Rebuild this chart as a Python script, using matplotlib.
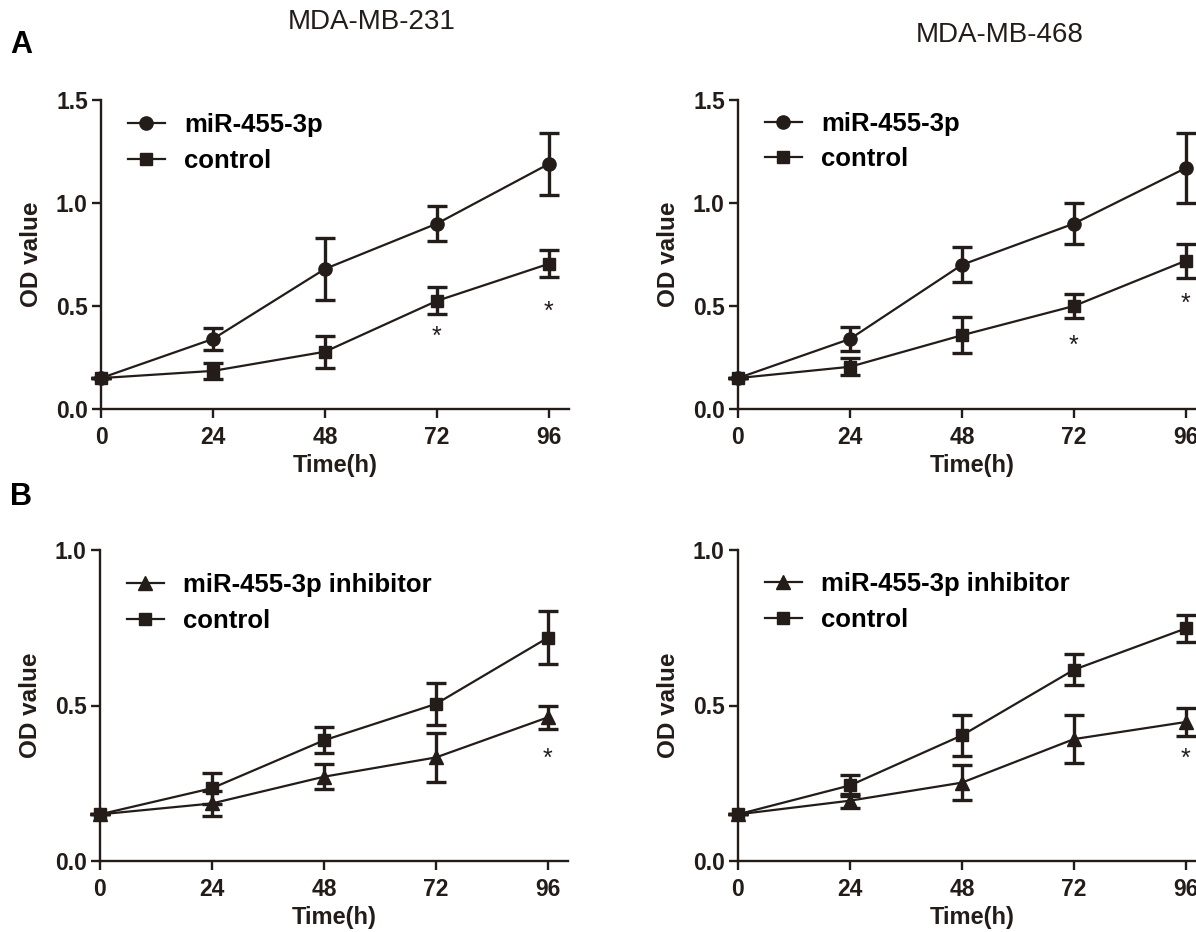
import matplotlib
matplotlib.use('Agg')
import matplotlib.pyplot as plt

plt.rcParams['font.family'] = ['Liberation Sans', 'DejaVu Sans']

# time points (h)
hours = [0, 24, 48, 72, 96]
xtick_labels = ['0', '24', '48', '72', '96']

# A, MDA-MB-231
a231_mir = [0.15, 0.34, 0.68, 0.90, 1.19]
a231_mir_sd = [0.0, 0.055, 0.15, 0.085, 0.15]
a231_ctl = [0.15, 0.185, 0.278, 0.525, 0.705]
a231_ctl_sd = [0.0, 0.04, 0.078, 0.065, 0.065]
a231_star_x = [72, 96]
a231_star_y = [0.35, 0.47]

# A, MDA-MB-468
a468_mir = [0.15, 0.34, 0.70, 0.90, 1.17]
a468_mir_sd = [0.0, 0.057, 0.085, 0.10, 0.17]
a468_ctl = [0.15, 0.205, 0.358, 0.50, 0.72]
a468_ctl_sd = [0.0, 0.042, 0.087, 0.056, 0.083]
a468_star_x = [72, 96]
a468_star_y = [0.305, 0.51]

# B, MDA-MB-231
b231_inh = [0.15, 0.185, 0.271, 0.333, 0.462]
b231_inh_sd = [0.0, 0.04, 0.04, 0.08, 0.038]
b231_ctl = [0.15, 0.234, 0.388, 0.505, 0.718]
b231_ctl_sd = [0.0, 0.05, 0.042, 0.068, 0.085]
b231_star_x = [96]
b231_star_y = [0.328]

# B, MDA-MB-468
b468_inh = [0.15, 0.194, 0.252, 0.392, 0.447]
b468_inh_sd = [0.0, 0.023, 0.057, 0.078, 0.045]
b468_ctl = [0.15, 0.243, 0.404, 0.615, 0.748]
b468_ctl_sd = [0.0, 0.034, 0.065, 0.05, 0.044]
b468_star_x = [96]
b468_star_y = [0.33]

INK = '#231c19'
W, H = 1196, 932


def px_axes(fig, left, top, right, bottom):
    return fig.add_axes([left / W, 1 - bottom / H, (right - left) / W, (bottom - top) / H])


def style_axes(ax, ymax, yticks):
    ax.set_xlim(0, 100.3)
    ax.set_ylim(0, ymax)
    ax.spines['top'].set_visible(False)
    ax.spines['right'].set_visible(False)
    for s in ('left', 'bottom'):
        ax.spines[s].set_linewidth(1.7)
        ax.spines[s].set_color(INK)
    ax.set_xticks(hours)
    ax.set_xticklabels(xtick_labels)
    ax.set_yticks(yticks)
    ax.set_yticklabels(['%.1f' % t for t in yticks])
    ax.tick_params(direction='out', length=6.5, width=1.7, color=INK,
                   labelsize=16.5, labelcolor=INK, pad=3)
    ax.tick_params(axis='x', pad=6)
    for lab in ax.get_xticklabels() + ax.get_yticklabels():
        lab.set_fontweight('bold')
    ax.set_xlabel('Time(h)', fontsize=17, fontweight='bold', color=INK, labelpad=3)
    ax.set_ylabel('OD value', fontsize=17.5, fontweight='bold', color=INK, labelpad=9)


def draw_series(ax, y, sd, marker, label, ms):
    ax.errorbar(hours, y, yerr=sd, fmt='none', ecolor=INK, elinewidth=2.4,
                capsize=7, capthick=2.4, clip_on=False, zorder=3)
    ax.plot(hours, y, color=INK, lw=1.6, marker=marker, ms=ms, label=label,
            clip_on=False, zorder=4)


def add_stars(ax, xs, ys):
    for x, y in zip(xs, ys):
        ax.text(x, y, '*', ha='center', va='center', fontsize=18, color=INK)


def add_legend(ax, top):
    ax.legend(loc='upper left', bbox_to_anchor=(0.035, top), frameon=False,
              handlelength=1.45, handletextpad=0.75,
              labelspacing=0.45, borderaxespad=0.0,
              prop={'weight': 'bold', 'size': 18.5})


fig = plt.figure(figsize=(W / 100, H / 100), dpi=100)

ax1 = px_axes(fig, 101, 100, 569, 409)
draw_series(ax1, a231_mir, a231_mir_sd, 'o', 'miR-455-3p', 9.5)
draw_series(ax1, a231_ctl, a231_ctl_sd, 's', 'control', 9)
add_stars(ax1, a231_star_x, a231_star_y)
style_axes(ax1, 1.5, [0.0, 0.5, 1.0, 1.5])
add_legend(ax1, 0.99)

ax2 = px_axes(fig, 738, 100, 1206, 409)
draw_series(ax2, a468_mir, a468_mir_sd, 'o', 'miR-455-3p', 9.5)
draw_series(ax2, a468_ctl, a468_ctl_sd, 's', 'control', 9)
add_stars(ax2, a468_star_x, a468_star_y)
style_axes(ax2, 1.5, [0.0, 0.5, 1.0, 1.5])
add_legend(ax2, 0.995)

ax3 = px_axes(fig, 100, 550, 568, 861)
draw_series(ax3, b231_inh, b231_inh_sd, '^', 'miR-455-3p inhibitor', 9.5)
draw_series(ax3, b231_ctl, b231_ctl_sd, 's', 'control', 9)
add_stars(ax3, b231_star_x, b231_star_y)
style_axes(ax3, 1.0, [0.0, 0.5, 1.0])
add_legend(ax3, 0.958)

ax4 = px_axes(fig, 738, 550, 1206, 861)
draw_series(ax4, b468_inh, b468_inh_sd, '^', 'miR-455-3p inhibitor', 9.5)
draw_series(ax4, b468_ctl, b468_ctl_sd, 's', 'control', 9)
add_stars(ax4, b468_star_x, b468_star_y)
style_axes(ax4, 1.0, [0.0, 0.5, 1.0])
add_legend(ax4, 0.962)

fig.text(372 / W, 1 - 22 / H, 'MDA-MB-231', ha='center', va='center', fontsize=20, color=INK)
fig.text(1000 / W, 1 - 35 / H, 'MDA-MB-468', ha='center', va='center', fontsize=20, color=INK)
fig.text(10 / W, 1 - 45 / H, 'A', ha='left', va='center', fontsize=22, fontweight='bold', color='black')
fig.text(10 / W, 1 - 497 / H, 'B', ha='left', va='center', fontsize=22, fontweight='bold', color='black')

fig.savefig('out.png', dpi=100, facecolor='white')
